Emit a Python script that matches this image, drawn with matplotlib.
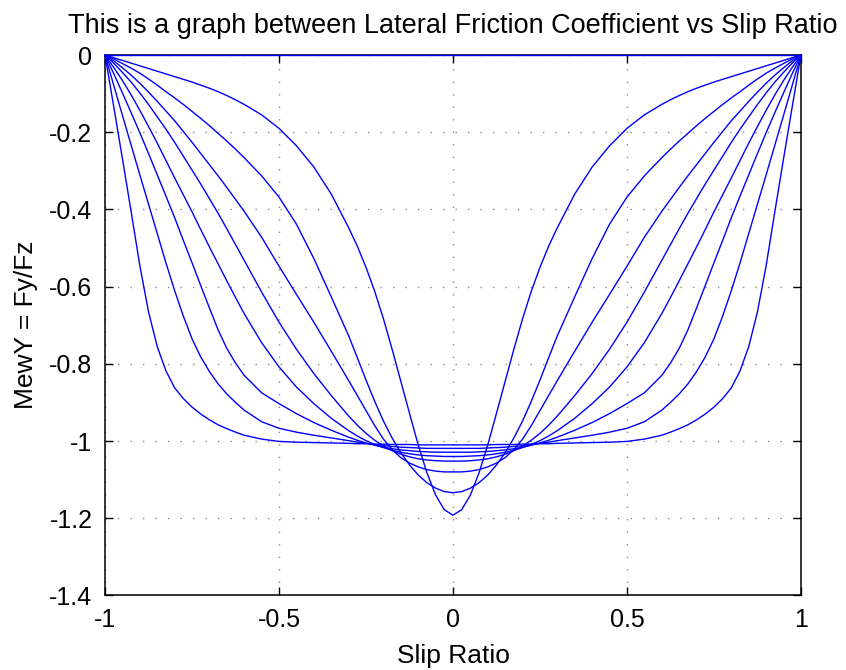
import numpy as np
import matplotlib.pyplot as plt

plt.rcParams['font.family'] = ['Liberation Sans', 'DejaVu Sans']

# slip ratio, right half (the chart is symmetric about 0)
slip = [0, 0.025, 0.05, 0.075, 0.1, 0.125, 0.15, 0.175, 0.2, 0.225, 0.25, 0.275,
        0.3, 0.35, 0.4, 0.45, 0.5, 0.55, 0.6, 0.625, 0.65, 0.675, 0.7, 0.725,
        0.75, 0.775, 0.8, 0.825, 0.85, 0.875, 0.9, 0.925, 0.95, 0.975, 1.0]

# lateral friction coefficient, one list per curve
mu_a = [-1.192, -1.178, -1.140, -1.082, -1.010, -0.928, -0.845, -0.762, -0.683,
        -0.612, -0.550, -0.495, -0.447, -0.360, -0.290, -0.235, -0.190, -0.155,
        -0.128, -0.116, -0.105, -0.095, -0.086, -0.078, -0.070, -0.063, -0.056,
        -0.049, -0.042, -0.035, -0.028, -0.021, -0.014, -0.007, 0.0]
mu_b = [-1.134, -1.131, -1.122, -1.108, -1.088, -1.062, -1.030, -0.992, -0.948,
        -0.897, -0.842, -0.784, -0.727, -0.626, -0.527, -0.438, -0.368, -0.313,
        -0.266, -0.244, -0.223, -0.203, -0.183, -0.164, -0.146, -0.128, -0.111,
        -0.095, -0.078, -0.062, -0.047, -0.034, -0.022, -0.010, 0.0]
mu_c = [-1.080, -1.080, -1.078, -1.074, -1.067, -1.057, -1.043, -1.022, -0.995,
        -0.960, -0.921, -0.882, -0.843, -0.767, -0.692, -0.620, -0.547, -0.472,
        -0.405, -0.374, -0.343, -0.313, -0.284, -0.255, -0.226, -0.198, -0.170,
        -0.145, -0.120, -0.096, -0.073, -0.052, -0.033, -0.015, 0.0]
mu_d = [-1.052, -1.052, -1.051, -1.049, -1.046, -1.041, -1.034, -1.025, -1.013,
        -0.998, -0.980, -0.959, -0.935, -0.882, -0.825, -0.762, -0.692, -0.614,
        -0.532, -0.491, -0.450, -0.410, -0.372, -0.334, -0.298, -0.262, -0.226,
        -0.192, -0.160, -0.128, -0.098, -0.070, -0.045, -0.021, 0.0]
mu_e = [-1.040, -1.040, -1.039, -1.038, -1.036, -1.033, -1.029, -1.024, -1.017,
        -1.009, -0.999, -0.987, -0.973, -0.941, -0.903, -0.860, -0.808, -0.745,
        -0.670, -0.628, -0.585, -0.541, -0.497, -0.452, -0.406, -0.362, -0.318,
        -0.273, -0.228, -0.185, -0.143, -0.103, -0.066, -0.032, 0.0]
mu_f = [-1.029, -1.029, -1.029, -1.028, -1.027, -1.025, -1.023, -1.020, -1.016,
        -1.011, -1.005, -0.998, -0.990, -0.972, -0.952, -0.929, -0.903, -0.875,
        -0.830, -0.798, -0.760, -0.712, -0.655, -0.597, -0.538, -0.480, -0.421,
        -0.365, -0.310, -0.255, -0.201, -0.149, -0.098, -0.048, 0.0]
mu_g = [-1.019, -1.019, -1.019, -1.019, -1.018, -1.017, -1.016, -1.014, -1.012,
        -1.009, -1.006, -1.003, -0.999, -0.992, -0.985, -0.977, -0.967, -0.950,
        -0.920, -0.900, -0.878, -0.852, -0.820, -0.782, -0.735, -0.676, -0.610,
        -0.538, -0.462, -0.386, -0.310, -0.233, -0.156, -0.078, 0.0]
mu_h = [-1.010, -1.010, -1.010, -1.010, -1.010, -1.009, -1.009, -1.009, -1.008,
        -1.008, -1.007, -1.007, -1.006, -1.005, -1.004, -1.003, -1.001, -0.995,
        -0.985, -0.977, -0.968, -0.958, -0.945, -0.930, -0.912, -0.890, -0.862,
        -0.818, -0.755, -0.665, -0.545, -0.405, -0.268, -0.133, 0.0]
mu_zero = [0.0] * len(slip)

curves = [mu_zero, mu_a, mu_b, mu_c, mu_d, mu_e, mu_f, mu_g, mu_h]

fig = plt.figure(figsize=(8.46, 6.70), dpi=100)
ax = fig.add_axes([0.1241, 0.1113, 0.8227, 0.8066])

x = np.array(slip)
x_full = np.concatenate([-x[::-1], x[1:]])
for mu in curves:
    m = np.array(mu)
    m_full = np.concatenate([m[::-1], m[1:]])
    ax.plot(x_full, m_full, color=(0, 0, 1), lw=1.0, clip_on=False, zorder=3)

ax.set_xlim(-1, 1)
ax.set_ylim(-1.4, 0)
ax.set_xticks([-1, -0.5, 0, 0.5, 1])
ax.set_xticklabels(['-1', '-0.5', '0', '0.5', '1'])
ax.set_yticks([0, -0.2, -0.4, -0.6, -0.8, -1, -1.2, -1.4])
ax.set_yticklabels(['0', '-0.2', '-0.4', '-0.6', '-0.8', '-1', '-1.2', '-1.4'])
ax.tick_params(direction='in', length=6, width=1, top=True, right=True,
               labelsize=18, pad=9)
ax.grid(True, color='#8a8a8a', linestyle=(0, (1, 8)), linewidth=1.0)
for s in ax.spines.values():
    s.set_linewidth(1.1)

ax.set_title('This is a graph between Lateral Friction Coefficient vs Slip Ratio',
             fontsize=19.5, pad=16)
ax.set_xlabel('Slip Ratio', fontsize=19, labelpad=9)
ax.set_ylabel('MewY = Fy/Fz', fontsize=19, labelpad=8)

fig.savefig('out.png', dpi=100)
